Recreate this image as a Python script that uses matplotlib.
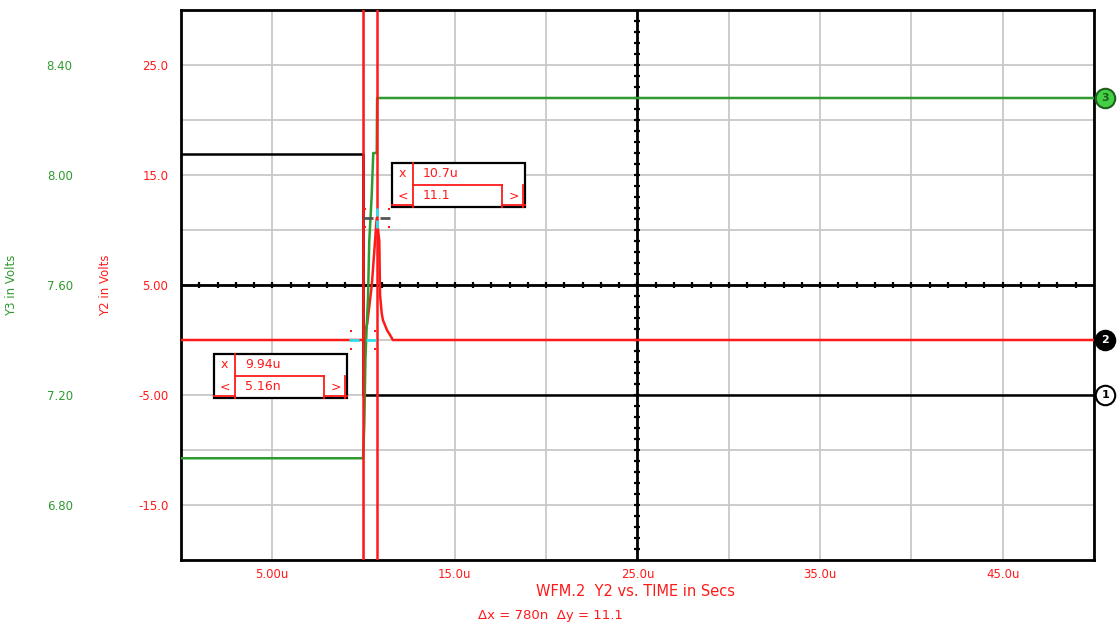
import numpy as np
import matplotlib
matplotlib.use("Agg")
import matplotlib.pyplot as plt
from matplotlib.transforms import offset_copy
from matplotlib.patches import Rectangle
from matplotlib.lines import Line2D

# ---- waveform data (time in microseconds) ----
time_v1 = [0, 9.96, 9.96, 50]
v1 = [16.9, 16.9, -5.0, -5.0]

time_v2 = [0, 9.97, 10.2, 10.45, 10.72, 10.86, 10.90, 10.99, 11.06, 11.17, 11.28, 11.45, 11.6, 50]
v2 = [0, 0, 1.5, 5.0, 11.1, 9.0, 4.1, 2.45, 1.8, 1.36, 0.9, 0.45, 0, 0]

time_v3 = [0, 9.97, 10.04, 10.10, 10.17, 10.24, 10.31, 10.44, 10.53, 10.72, 10.74, 50]
v3 = [6.97, 6.97, 7.10, 7.33, 7.45, 7.55, 7.76, 7.92, 8.08, 8.08, 8.28, 8.28]

# cursors: x position, Y2 value, readout strings
cursor_x = [9.94, 10.72]
cursor_y = [5.16e-9, 11.1]
cursor_xtxt = ["9.94u", "10.7u"]
cursor_ytxt = ["5.16n", "11.1"]
delta_txt = "\u0394x = 780n  \u0394y = 11.1"

x_ticks = [5, 15, 25, 35, 45]
x_labels = ["5.00u", "15.0u", "25.0u", "35.0u", "45.0u"]
y2_ticks = [25, 15, 5, -5, -15]
y2_labels = ["25.0", "15.0", "5.00", "-5.00", "-15.0"]
y3_ticks = [8.4, 8.0, 7.6, 7.2, 6.8]
y3_labels = ["8.40", "8.00", "7.60", "7.20", "6.80"]

RED = "#ff1a1a"
GREEN = "#2f9a2f"
GRID = "#c8c8c8"

fig = plt.figure(figsize=(11.17, 6.26), dpi=100)
ax = fig.add_axes([0.16204, 0.10543, 0.81737, 0.8786])
ax.set_xlim(0, 50)
ax.set_ylim(-20, 30)
ax3 = ax.twinx()
ax3.set_ylim(6.6, 8.6)

# grid every 5 units on both axes
ax.set_xticks(np.arange(0, 51, 5), minor=True)
ax.set_yticks(np.arange(-20, 31, 5), minor=True)
ax.set_xticks(x_ticks)
ax.set_xticklabels(x_labels)
ax.set_yticks(y2_ticks)
ax.set_yticklabels(y2_labels)
ax.grid(which="both", color=GRID, lw=1.3)
ax.set_axisbelow(True)
ax.tick_params(which="both", length=0)
ax.tick_params(axis="x", colors=RED, labelsize=8.5, pad=6)
ax.tick_params(axis="y", colors=RED, labelsize=8.5, pad=9)
for s in ax.spines.values():
    s.set_linewidth(2)
    s.set_color("black")

ax3.yaxis.set_ticks_position("left")
ax3.yaxis.set_label_position("left")
ax3.set_yticks(y3_ticks)
ax3.set_yticklabels(y3_labels)
ax3.tick_params(length=0, colors=GREEN, labelsize=8.5, pad=78)
for s in ax3.spines.values():
    s.set_visible(False)

ax.set_ylabel("Y2 in Volts", color=RED, fontsize=8.5)
ax.yaxis.set_label_coords(-0.0756, 0.5)
ax3.set_ylabel("Y3 in Volts", color=GREEN, fontsize=8.5)
ax3.yaxis.set_label_coords(-0.1785, 0.5)

# centre cross with minor ticks
ax.axhline(5, color="black", lw=2, zorder=2)
ax.axvline(25, color="black", lw=2, zorder=2)
ax.plot(np.arange(1, 50, 1), np.full(49, 5.0), ls="none", marker="|",
        ms=5, mew=1.6, color="black", zorder=2)
ax.plot(np.full(49, 25.0), np.arange(-19, 30, 1), ls="none", marker="_",
        ms=5, mew=1.6, color="black", zorder=2)

# traces
ax.plot(time_v1, v1, color="black", lw=1.8, zorder=4)
ax.plot(time_v2, v2, color=RED, lw=1.8, zorder=4)
ax.plot(time_v3, v3, color=GREEN, lw=1.8, zorder=4, transform=ax3.transData)

# cursor lines
for cx in cursor_x:
    ax.axvline(cx, color=RED, lw=1.8, zorder=5)


def crosshair(x, y, horiz_color, vert_color):
    """Cursor crosshair: red corner dots plus short horizontal / vertical bars."""
    base = ax.transData
    for dx in (-12, 12):
        for dy in (-9, 9):
            tr = offset_copy(base, fig=fig, x=dx * 0.72, y=dy * 0.72, units="points")
            ax.plot([x], [y], marker="s", ms=1.6, color=RED, mew=0, transform=tr,
                    zorder=6, clip_on=False)
    if horiz_color:
        for off in (-8.5, 8.5):
            tr = offset_copy(base, fig=fig, x=off * 0.72, y=0, units="points")
            ax.plot([x], [y], marker="_", ms=6.5, mew=2, color=horiz_color,
                    transform=tr, zorder=6)
    if vert_color:
        for off in (6, -6):
            tr = offset_copy(base, fig=fig, x=0, y=off * 0.72, units="points")
            ax.plot([x], [y], marker="|", ms=6, mew=2, color=vert_color,
                    transform=tr, zorder=6)


crosshair(cursor_x[0], cursor_y[0], "#33e0f0", None)
crosshair(cursor_x[1], cursor_y[1], "#555555", "#33e0f0")

# readout boxes (top-left corner in pixels from the frame's top-left)
PX = 1.0 / 913
PY = 1.0 / 550


def readout(left_px, top_px, xtxt, ytxt):
    x0 = left_px * PX
    y0 = 1 - top_px * PY
    w, h = 133 * PX, 44 * PY
    c1 = 21 * PX
    c2 = 110 * PX
    kw = dict(transform=ax.transAxes, zorder=8, clip_on=False)
    ax.add_patch(Rectangle((x0, y0 - h), w, h, facecolor="white",
                           edgecolor="black", lw=1.6, **kw))
    lkw = dict(color=RED, lw=1.3, transform=ax.transAxes, zorder=9, clip_on=False)
    ax.add_line(Line2D([x0 + c1, x0 + c1], [y0, y0 - h], **lkw))
    ax.add_line(Line2D([x0 + c1, x0 + c2], [y0 - h / 2, y0 - h / 2], **lkw))
    ax.add_line(Line2D([x0 + c2, x0 + c2], [y0 - h / 2, y0 - h], **lkw))
    ax.add_line(Line2D([x0 + c2, x0 + w], [y0 - h + 2 * PY, y0 - h + 2 * PY], **lkw))
    ax.add_line(Line2D([x0 + w - 2 * PX, x0 + w - 2 * PX], [y0 - h / 2, y0 - h], **lkw))
    ax.add_line(Line2D([x0, x0 + c1], [y0 - h + 2 * PY, y0 - h + 2 * PY], **lkw))
    tkw = dict(transform=ax.transAxes, color=RED, fontsize=9, zorder=10, va="center")
    ax.text(x0 + c1 / 2, y0 - h / 4, "x", ha="center", **tkw)
    ax.text(x0 + c1 / 2, y0 - 3 * h / 4, "<", ha="center", **tkw)
    ax.text(x0 + (c2 + w) / 2, y0 - 3 * h / 4, ">", ha="center", **tkw)
    ax.text(x0 + c1 + 10 * PX, y0 - h / 4, xtxt, ha="left", **tkw)
    ax.text(x0 + c1 + 10 * PX, y0 - 3 * h / 4, ytxt, ha="left", **tkw)


readout(33, 344, cursor_xtxt[0], cursor_ytxt[0])
readout(211, 153, cursor_xtxt[1], cursor_ytxt[1])


def end_marker(y, trans, label, face, edge, tcolor):
    """Numbered trace marker just outside the right edge of the frame."""
    tr = offset_copy(trans, fig=fig, x=8, y=0, units="points")
    ax.plot([50], [y], marker="o", ms=14, mfc=face, mec=edge, mew=1.5,
            transform=tr, clip_on=False, zorder=10)
    ax.text(50, y, label, transform=tr, ha="center", va="center",
            fontsize=8, fontweight="bold", color=tcolor, zorder=11, clip_on=False)


end_marker(v3[-1], ax3.transData, "3", "#44d044", "#1f5f1f", "#1f5f1f")
end_marker(v2[-1], ax.transData, "2", "black", "black", "white")
end_marker(v1[-1], ax.transData, "1", "white", "black", "black")

fig.text(636 / 1117, 1 - 591 / 626, "WFM.2  Y2 vs. TIME in Secs",
         color=RED, fontsize=10.5, ha="center", va="center")
fig.text(550 / 1117, 1 - 615 / 626, delta_txt,
         color=RED, fontsize=9.5, ha="center", va="center")

fig.savefig("out.png", dpi=100)
